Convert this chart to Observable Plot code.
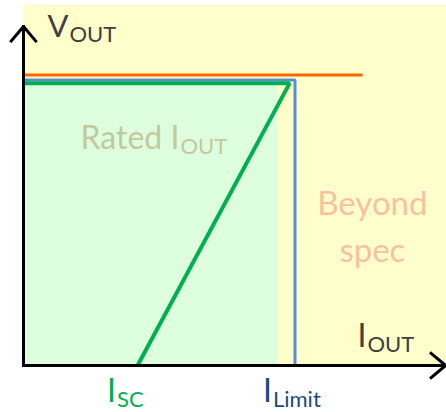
<!DOCTYPE html>
<html><head><meta charset="utf-8">
<script src="https://cdn.jsdelivr.net/npm/d3@7"></script>
<script src="https://cdn.jsdelivr.net/npm/@observablehq/plot@0.6"></script>
<style>body{margin:0;background:#fff;}</style>
</head><body><div id="chart"></div>
<script>
// Axis extents (normalised: I_Limit = 1, nominal V_OUT = 1)
const xMax = 1.558;
const yMax = 1.239;

// Characteristic values
const vNominal = 1.0;      // orange: nominal output voltage
const vLimit = 0.983;      // blue: current-limit curve
const vFoldback = 0.971;   // green: fold-back curve
const iRated = 0.936;      // end of rated region
const iLimit = 1.0;        // current limit
const iKnee = 0.98;        // fold-back knee
const iSC = 0.42;          // short-circuit current
const iNominalEnd = 1.249; // end of orange line
const ratedTop = 0.967;

const orangeLine = [{x: 0, y: vNominal}, {x: iNominalEnd, y: vNominal}];
const blueCurve = [{x: 0, y: vLimit}, {x: iLimit, y: vLimit}, {x: iLimit, y: 0}];
const greenCurve = [{x: 0, y: vFoldback}, {x: iKnee, y: vFoldback}, {x: iSC, y: 0}];
const axisArrows = [{x1: 0, y1: 0, x2: 0, y2: 1.167}, {x1: 0, y1: 0, x2: 1.555, y2: 0}];

// Annotation texts ("_" marks a subscript)
const axisLabels = [{t: "V_OUT", x: 0.088, y: 1.129}];
const currentAxisLabel = [{t: "I_OUT", x: 1.23, y: 0.062}];
const ratedLabel = [{t: "Rated I_OUT", x: 0.21, y: 0.744}];
const beyondLabel = [{t: "Beyond\nspec", x: 1.285, y: 0.355}];
const iscLabel = [{t: "I_SC", x: 0.308, y: -0.124}];
const ilimitLabel = [{t: "I_Limit", x: 0.882, y: -0.124}];

const plot = Plot.plot({
  width: 446,
  height: 412,
  marginLeft: 23,
  marginRight: 0,
  marginTop: 5,
  marginBottom: 47,
  x: {domain: [0, xMax], axis: null},
  y: {domain: [0, yMax], axis: null},
  style: {fontFamily: "Lato", background: "transparent", overflow: "visible"},
  marks: [
    Plot.rect([{}], {x1: 0, x2: xMax, y1: 0, y2: yMax, fill: "#FFFFCC"}),
    Plot.rect([{}], {x1: 0, x2: iRated, y1: 0, y2: ratedTop, fill: "#DDFFDD"}),
    Plot.text(ratedLabel, {x: "x", y: "y", text: "t", fill: "#C4C89C", fontSize: 32, textAnchor: "start", lineAnchor: "bottom"}),
    Plot.text(beyondLabel, {x: "x", y: "y", text: "t", fill: "#F8C29E", fontSize: 33, textAnchor: "middle", lineAnchor: "bottom", lineHeight: 1.43}),
    Plot.line(orangeLine, {x: "x", y: "y", stroke: "#FF6600", strokeWidth: 3, strokeLinejoin: "miter", strokeLinecap: "butt"}),
    Plot.line(blueCurve, {x: "x", y: "y", stroke: "#558ED5", strokeWidth: 3, strokeLinejoin: "miter", strokeLinecap: "butt"}),
    Plot.line(greenCurve, {x: "x", y: "y", stroke: "#00B050", strokeWidth: 4, strokeLinejoin: "miter", strokeLinecap: "butt"}),
    Plot.arrow(axisArrows, {x1: "x1", y1: "y1", x2: "x2", y2: "y2", stroke: "black", strokeWidth: 3, headAngle: 80, headLength: 9.5, strokeLinecap: "square"}),
    Plot.text(axisLabels, {x: "x", y: "y", text: "t", fill: "#404040", fontSize: 31, textAnchor: "start", lineAnchor: "bottom"}),
    Plot.text(currentAxisLabel, {x: "x", y: "y", text: "t", fill: "#404040", fontSize: 32, textAnchor: "start", lineAnchor: "bottom"}),
    Plot.text(iscLabel, {x: "x", y: "y", text: "t", fill: "#00B050", fontSize: 32, textAnchor: "start", lineAnchor: "bottom"}),
    Plot.text(ilimitLabel, {x: "x", y: "y", text: "t", fill: "#1F497D", fontSize: 32, textAnchor: "start", lineAnchor: "bottom"})
  ]
});

// Render "_" as a subscript
plot.querySelectorAll("text").forEach(el => {
  const s = el.textContent;
  if (el.children.length === 0 && s.includes("_")) {
    const [main, sub] = s.split("_");
    el.textContent = "";
    const a = document.createElementNS("http://www.w3.org/2000/svg", "tspan");
    a.textContent = main;
    const b = document.createElementNS("http://www.w3.org/2000/svg", "tspan");
    b.textContent = sub;
    b.setAttribute("font-size", "22");
    b.setAttribute("dy", "5");
    b.setAttribute("dx", "1");
    el.appendChild(a);
    el.appendChild(b);
  }
});

document.getElementById("chart").appendChild(plot);
</script>
</body></html>
